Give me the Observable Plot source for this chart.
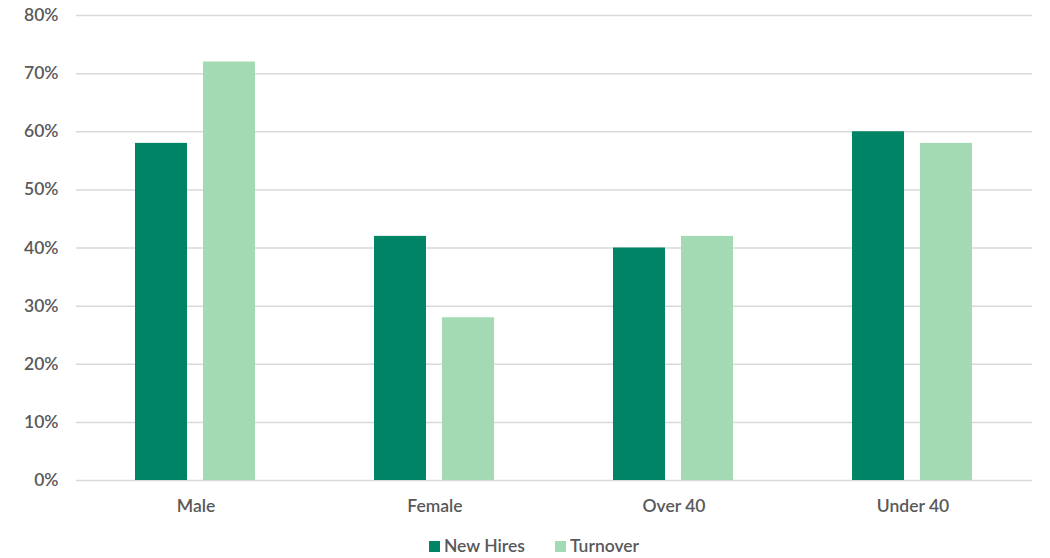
<!DOCTYPE html>
<html>
<head>
<meta charset="utf-8">
<script src="https://cdn.jsdelivr.net/npm/d3@7"></script>
<script src="https://cdn.jsdelivr.net/npm/@observablehq/plot@0.6"></script>
<style>
  html, body { margin: 0; padding: 0; background: #fff; }
  body { width: 1050px; height: 558px; overflow: hidden; font-family: Lato, "Open Sans", sans-serif; }
  #legend { display: flex; justify-content: center; gap: 30px; font-size: 17.5px; color: #595959; height: 30px; padding-top: 11px; align-items: center; margin-left: 18px; font-weight: 600; line-height: 1; }
  .sw { display: inline-flex; align-items: center; gap: 4px; }
  .sw i { display: inline-block; width: 11px; height: 11px; }
</style>
</head>
<body>
<div id="chart"></div>
<div id="legend"></div>
<script>
const categories = ["Male", "Female", "Over 40", "Under 40"];
const series = ["New Hires", "Turnover"];
const newHires = [58, 42, 40, 60];
const turnover = [72, 28, 42, 58];
const yTicks = [0, 10, 20, 30, 40, 50, 60, 70, 80];
const colors = ["#008466", "#a3dab3"];

const data = [];
categories.forEach((c, i) => {
  data.push({category: c, series: series[0], value: newHires[i]});
  data.push({category: c, series: series[1], value: turnover[i]});
});

const chart = Plot.plot({
  width: 1050,
  height: 520,
  marginTop: 15,
  marginBottom: 40,
  marginLeft: 75,
  marginRight: 18,
  style: {fontFamily: "Lato, sans-serif", fontSize: "17.5px", color: "#595959", fontWeight: 600},
  fx: {domain: categories, paddingInner: 0, paddingOuter: 0, label: null, axis: "bottom", tickSize: 0, tickPadding: 19},
  x: {domain: series, axis: null, paddingInner: 0.232, paddingOuter: 0.855},
  y: {domain: [0, 80], ticks: yTicks, tickFormat: d => d + "%", label: null, tickSize: 0, tickPadding: 18},
  color: {domain: series, range: colors},
  marks: [
    Plot.ruleY(yTicks, {stroke: "#d9d9d9", strokeWidth: 1.5}),
    Plot.barY(data, {fx: "category", x: "series", y: "value", fill: "series"})
  ]
});
document.getElementById("chart").appendChild(chart);

const legend = document.getElementById("legend");
series.forEach((s, i) => {
  const span = document.createElement("span");
  span.className = "sw";
  span.innerHTML = `<i style="background:${colors[i]}"></i>${s}`;
  legend.appendChild(span);
});
</script>
</body>
</html>
